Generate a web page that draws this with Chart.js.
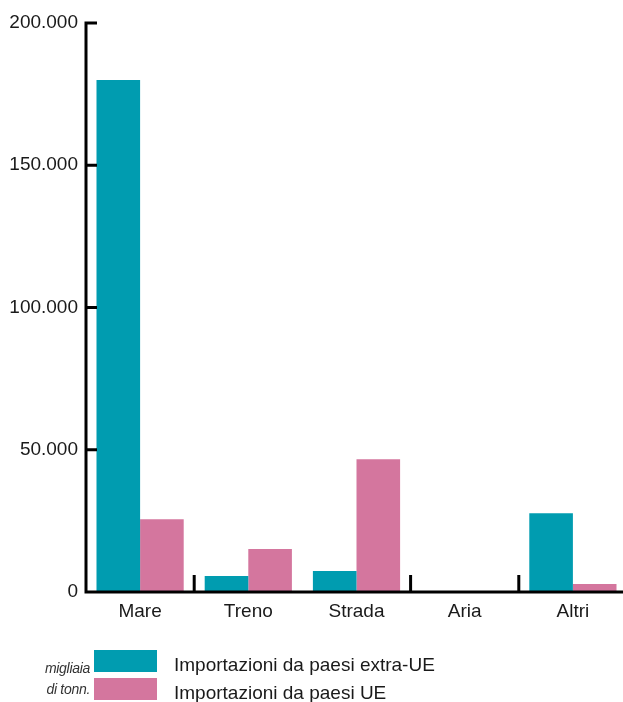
<!DOCTYPE html>
<html>
<head>
<meta charset="utf-8">
<script src="https://cdn.jsdelivr.net/npm/chart.js@4/dist/chart.umd.min.js"></script>
<style>
  html, body { margin: 0; padding: 0; background: #fff; overflow: hidden; }
  #wrap { position: relative; width: 623px; height: 702px; overflow: hidden; font-family: "Liberation Sans", Arial, sans-serif; }
  #wrap canvas { position: absolute; left: 0; top: 0; }
  .sw { position: absolute; left: 94px; width: 63px; height: 22px; }
  .lt { position: absolute; left: 174px; font-size: 19px; color: #1a1a1a; line-height: 22px; white-space: nowrap; }
  .unit { position: absolute; right: 533px; font-size: 14px; font-style: italic; color: #333; line-height: 16px; white-space: nowrap; letter-spacing: -0.3px; }
</style>
</head>
<body>
<div id="wrap">
  <canvas id="c" width="627" height="702"></canvas>
  <div class="unit" style="top:660px;">migliaia</div>
  <div class="unit" style="top:681px;">di tonn.</div>
  <div id="legend"></div>
</div>
<script>
const categories = ["Mare", "Treno", "Strada", "Aria", "Altri"];
const seriesNames = ["Importazioni da paesi extra-UE", "Importazioni da paesi UE"];
const extraUE = [180000, 5600, 7400, 0, 27700];
const UE = [25600, 15100, 46700, 0, 2800];
const yTicks = [0, 50000, 100000, 150000, 200000];
const colors = ["#009CB0", "#D4769E"];

const axisPlugin = {
  id: "axisPlugin",
  afterDraw(chart) {
    const ctx = chart.ctx;
    const a = chart.chartArea;
    const x = chart.scales.x, y = chart.scales.y;
    ctx.save();
    ctx.strokeStyle = "#000";
    ctx.lineWidth = 3;
    ctx.lineCap = "butt";
    ctx.beginPath();
    ctx.moveTo(a.left, a.top - 1.5);
    ctx.lineTo(a.left, a.bottom + 1.5);
    ctx.moveTo(a.left - 1.5, a.bottom);
    ctx.lineTo(a.right, a.bottom);
    yTicks.forEach(v => {
      if (v === 0) return;
      const py = y.getPixelForValue(v);
      ctx.moveTo(a.left, py);
      ctx.lineTo(a.left + 11, py);
    });
    const n = categories.length;
    for (let i = 1; i < n; i++) {
      if (i === 2) continue;
      const px = (x.getPixelForValue(i - 1) + x.getPixelForValue(i)) / 2;
      ctx.moveTo(px, a.bottom);
      ctx.lineTo(px, a.bottom - 17);
    }
    ctx.stroke();
    ctx.restore();
  }
};

const chart = new Chart(document.getElementById("c"), {
  type: "bar",
  data: {
    labels: categories,
    datasets: [
      { label: seriesNames[0], data: extraUE, backgroundColor: colors[0] },
      { label: seriesNames[1], data: UE, backgroundColor: colors[1] }
    ]
  },
  options: {
    responsive: false,
    animation: false,
    layout: { padding: { top: 23, right: 0, left: 0, bottom: 0 } },
    plugins: { legend: { display: false }, tooltip: { enabled: false } },
    datasets: { bar: { categoryPercentage: 0.806, barPercentage: 1.0 } },
    scales: {
      x: {
        grid: { display: false, drawTicks: false, tickLength: 0 },
        border: { display: false },
        ticks: { color: "#1a1a1a", font: { family: "Liberation Sans", size: 19 }, padding: 8 },
        afterFit(s) { s.height = 110; }
      },
      y: {
        min: 0, max: 200000,
        afterBuildTicks(s) { s.ticks = yTicks.map(v => ({ value: v })); },
        grid: { display: false, drawTicks: false, tickLength: 0 },
        border: { display: false },
        ticks: {
          color: "#1a1a1a", font: { family: "Liberation Sans", size: 19 }, padding: 8,
          callback: v => v === 0 ? "0" : v.toLocaleString("de-DE")
        },
        afterFit(s) { s.width = 86; }
      }
    }
  },
  plugins: [axisPlugin]
});

const lg = document.getElementById("legend");
seriesNames.forEach((name, i) => {
  const top = 650 + i * 28;
  const sw = document.createElement("div");
  sw.className = "sw"; sw.style.top = top + "px"; sw.style.background = colors[i];
  const t = document.createElement("div");
  t.className = "lt"; t.style.top = (top + 4) + "px"; t.textContent = name;
  lg.appendChild(sw); lg.appendChild(t);
});
</script>
</body>
</html>
